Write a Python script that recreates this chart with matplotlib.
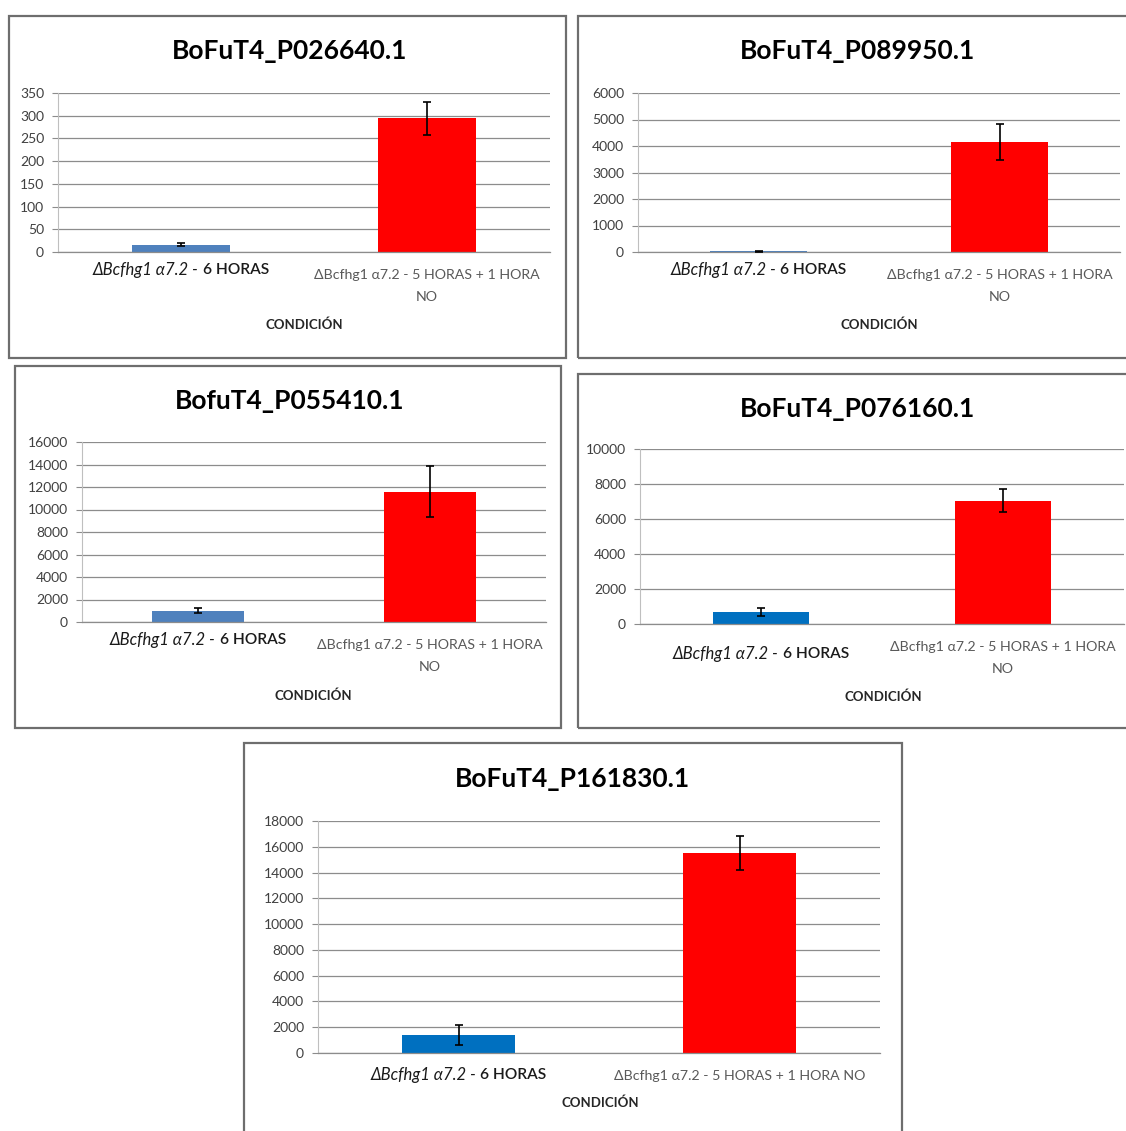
import matplotlib
matplotlib.use("Agg")
import matplotlib.pyplot as plt
from matplotlib.patches import Rectangle
import numpy as np

# ---- data ----
genes = ["BoFuT4_P026640.1", "BoFuT4_P089950.1", "BofuT4_P055410.1",
         "BoFuT4_P076160.1", "BoFuT4_P161830.1"]
cond_6h_italic = "ΔBcfhg1 α7.2 - "
cond_6h_plain = "6 HORAS"
cond_5h1 = "ΔBcfhg1 α7.2 - 5 HORAS + 1 HORA NO"
axis_title = "CONDICIÓN"

mean_6h = [16, 20, 1000, 680, 1370]
err_6h = [3, 12, 220, 230, 770]
mean_5h1 = [294, 4160, 11600, 7050, 15540]
err_5h1 = [37, 680, 2270, 650, 1320]
y_max = [350, 6000, 16000, 10000, 18000]
y_step = [50, 1000, 2000, 2000, 2000]

# ---- layout (pixels) ----
W, H, DPI = 1126, 1131, 100
frames = [(9, 16, 566, 358), (578, 16, 1145, 358), (15, 366, 561, 728),
          (578, 374, 1145, 728), (244, 743, 902, 1145)]
plots = [(58, 93, 550, 252), (638, 93, 1120, 252), (82, 442, 546, 622),
         (640, 449, 1124, 624), (318, 821, 880, 1053)]
title_xy = [(290, 51), (858, 51), (290, 401), (858, 409), (572, 779)]
lab1_y = [270, 270, 640, 654, 1075]
lab2_y = [275, 275, 645, 647, 1076]
wrap2 = [True, True, True, True, False]
xlab_xy = [(304, 325), (879, 325), (313, 696), (883, 697), (600, 1103)]
blue = ["#4F81BD", "#4F81BD", "#4F81BD", "#0070C0", "#0070C0"]
red = "#FF0000"
grid_c = "#8C8C8C"

plt.rcParams["font.family"] = ["Lato", "DejaVu Sans"]

fig = plt.figure(figsize=(W / DPI, H / DPI), dpi=DPI)
fig.patch.set_facecolor("white")


def fx(x):
    return x / W


def fy(y):
    return 1 - y / H


# panel frames
for (l, t, r, b) in frames:
    fig.patches.append(Rectangle((fx(l), fy(b)), (r - l) / W, (b - t) / H,
                                 transform=fig.transFigure, fill=False,
                                 edgecolor="#6E6E6E", linewidth=1.6, zorder=0))

renderer = fig.canvas.get_renderer()

for i, gene in enumerate(genes):
    l, t, r, b = plots[i]
    ax = fig.add_axes([fx(l), fy(b), (r - l) / W, (b - t) / H])
    ax.set_facecolor("none")
    ax.set_xlim(-0.5, 1.5)
    ax.set_ylim(0, y_max[i])
    ax.set_yticks(np.arange(0, y_max[i] + y_step[i], y_step[i]))
    ax.set_axisbelow(True)
    ax.yaxis.grid(True, color=grid_c, linewidth=0.9)
    ax.set_xticks([])
    for s in ("top", "right"):
        ax.spines[s].set_visible(False)
    ax.spines["left"].set_color("#BFBFBF")
    ax.spines["left"].set_linewidth(0.8)
    ax.spines["bottom"].set_color(grid_c)
    ax.spines["bottom"].set_linewidth(0.9)
    ax.tick_params(axis="y", length=4, width=0.8, color=grid_c,
                   labelsize=10, labelcolor="#404040", pad=6)

    ax.bar([0, 1], [mean_6h[i], mean_5h1[i]], width=0.4,
           color=[blue[i], red], zorder=2)
    ax.errorbar([0, 1], [mean_6h[i], mean_5h1[i]], yerr=[err_6h[i], err_5h1[i]],
                fmt="none", ecolor="black", elinewidth=1.2, capsize=3,
                capthick=1.2, zorder=3)

    # title
    tx, ty = title_xy[i]
    fig.text(fx(tx), fy(ty), gene, ha="center", va="center",
             fontsize=19, fontweight="bold", color="black")

    # first category label: italic strain name followed by upright time
    cx1 = l + (r - l) * 0.25
    cx2 = l + (r - l) * 0.75
    t1 = fig.text(0, fy(lab1_y[i]), cond_6h_italic, style="italic",
                  fontsize=12, color="#1A1A1A", va="center", ha="left")
    t2 = fig.text(0, fy(lab1_y[i]), cond_6h_plain, fontsize=11.2,
                  fontweight="semibold", color="#1A1A1A", va="center",
                  ha="left")
    w1 = t1.get_window_extent(renderer).width
    w2 = t2.get_window_extent(renderer).width
    x0 = cx1 - (w1 + w2) / 2
    t1.set_x(fx(x0))
    t2.set_x(fx(x0 + w1))

    # second category label
    if wrap2[i]:
        first, last = cond_5h1.rsplit(" ", 1)
        fig.text(fx(cx2), fy(lab2_y[i]), first, ha="center", va="center",
                 fontsize=10.2, color="#595959")
        fig.text(fx(cx2), fy(lab2_y[i] + 22), last, ha="center", va="center",
                 fontsize=10.2, color="#595959")
    else:
        fig.text(fx(cx2), fy(lab2_y[i]), cond_5h1, ha="center", va="center",
                 fontsize=10.2, color="#595959")

    # axis title
    xx, xy = xlab_xy[i]
    fig.text(fx(xx), fy(xy), axis_title, ha="center", va="center",
             fontsize=9.5, fontweight="bold", color="#262626")

fig.savefig("out.png", dpi=DPI, facecolor="white")
